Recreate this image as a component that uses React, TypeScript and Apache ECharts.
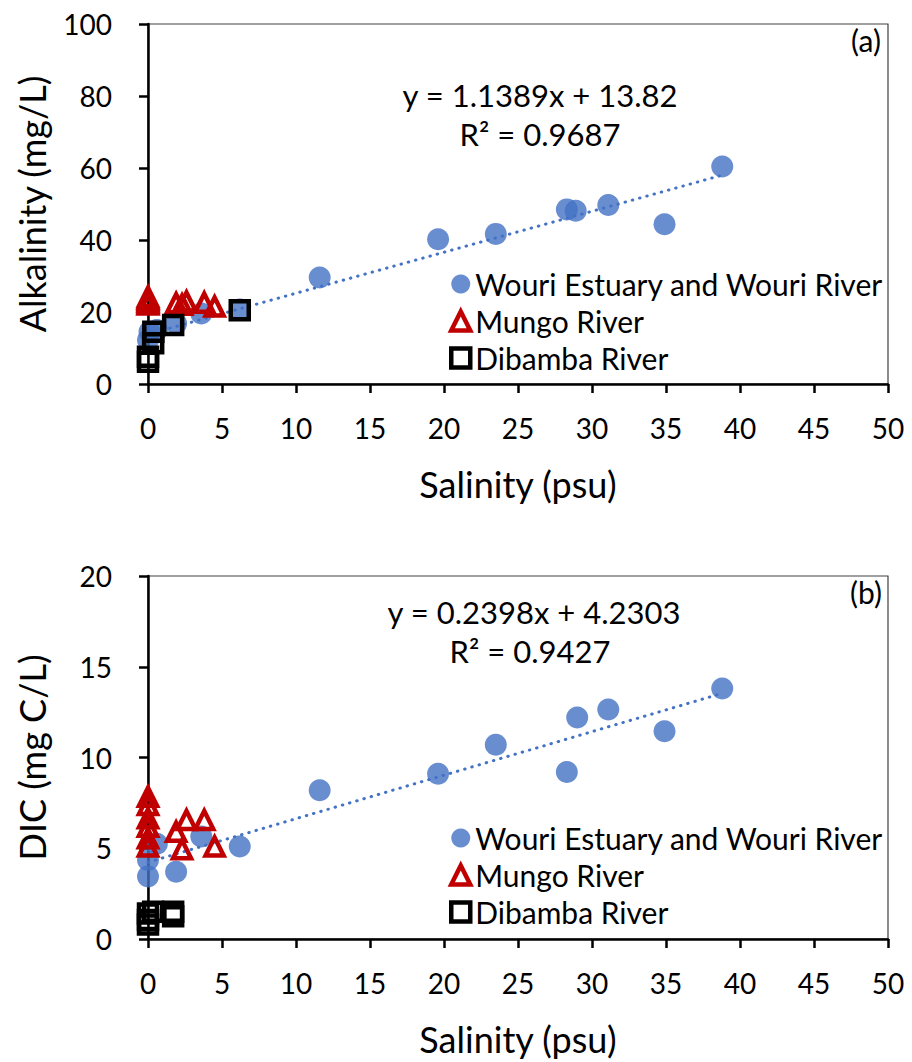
import React, { useEffect, useRef } from "react";
import * as echarts from "echarts";

// Panel (a): Alkalinity vs salinity
const wouriSalA = [0, 0.1, 0.6, 1.9, 3.6, 6.2, 11.6, 19.6, 23.5, 28.3, 28.9, 31.1, 34.9, 38.8];
const wouriAlk = [12.2, 14.5, 15.0, 16.8, 19.6, 20.7, 29.6, 40.2, 41.7, 48.5, 48.1, 49.7, 44.4, 60.4];
const mungoSalA = [0, 0, 0, 0, 0, 0, 1.9, 2.3, 2.6, 3.8, 4.5];
const mungoAlk = [24.2, 23.7, 23.3, 22.9, 22.5, 22.1, 22.4, 22.0, 22.9, 22.6, 21.5];
const dibambaSalA = [0, 0, 0.35, 0.36, 1.7, 6.2];
const dibambaAlk = [6.2, 7.6, 11.3, 14.5, 16.4, 20.5];

// Panel (b): DIC vs salinity
const wouriSalB = [0, 0, 0.6, 1.9, 3.6, 6.2, 11.6, 19.6, 23.5, 28.3, 29.0, 31.1, 34.9, 38.8];
const wouriDic = [3.45, 4.35, 5.25, 3.7, 5.65, 5.1, 8.2, 9.1, 10.7, 9.2, 12.2, 12.65, 11.45, 13.8];
const mungoSalB = [0, 0, 0, 0, 0, 0, 1.9, 2.6, 3.8, 2.3, 4.5];
const mungoDic = [7.84, 7.38, 6.65, 6.19, 5.55, 5.09, 5.91, 6.56, 6.56, 4.94, 5.09];
const dibambaSalB = [0, 0, 0, 0.35, 1.7, 1.7];
const dibambaDic = [0.8, 1.05, 1.4, 1.5, 1.5, 1.25];

// Trendline coefficients (from the chart's equations)
const trendA = { slope: 1.1389, intercept: 13.82, r2: "0.9687" };
const trendB = { slope: 0.2398, intercept: 4.2303, r2: "0.9427" };

const seriesNames = ["Wouri Estuary and Wouri River", "Mungo River", "Dibamba River"];
const xTicks = { min: 0, max: 50, interval: 5 };
const yTicksA = { min: 0, max: 100, interval: 20 };
const yTicksB = { min: 0, max: 20, interval: 5 };

const FONT = "Lato, 'Liberation Sans', sans-serif";
const BLUE = "#4472C4";
const RED = "#C00000";
const CLEAR = "rgba(255,255,255,0)";

function pairs(xs: number[], ys: number[]) {
  return xs.map((x, i) => [x, ys[i]]);
}

function trendLine(xs: number[], t: { slope: number; intercept: number }) {
  const lo = Math.min(...xs);
  const hi = Math.max(...xs);
  return [
    [lo, t.slope * lo + t.intercept],
    [hi, t.slope * hi + t.intercept],
  ];
}

export default function App() {
  const ref = useRef<HTMLDivElement>(null);

  useEffect(() => {
    if (!ref.current) return;
    const chart = echarts.init(ref.current, undefined, { renderer: "svg" });

    const axisCommon = {
      axisLine: { show: true, lineStyle: { color: "#000", width: 2.5 } },
      axisTick: { show: true, inside: false, length: 9, lineStyle: { color: "#000", width: 2.5 } },
      splitLine: { show: false },
      nameTextStyle: { fontFamily: FONT, fontSize: 36, color: "#000" },
    };

    const xAxis = (gridIndex: number) => ({
      type: "value",
      gridIndex,
      ...xTicks,
      name: "Salinity (psu)",
      nameLocation: "middle",
      nameGap: 82,
      axisLabel: { fontFamily: FONT, fontSize: 28, color: "#000", margin: 30 },
      ...axisCommon,
    });

    const yAxis = (gridIndex: number, ticks: any, name: string) => ({
      type: "value",
      gridIndex,
      ...ticks,
      name,
      nameLocation: "middle",
      nameGap: 98,
      axisLabel: { fontFamily: FONT, fontSize: 28, color: "#000", margin: 36 },
      ...axisCommon,
    });

    const scatterSet = (idx: number, w: number[][], m: number[][], d: number[][]) => [
      {
        name: seriesNames[0],
        type: "scatter",
        xAxisIndex: idx,
        yAxisIndex: idx,
        symbol: "circle",
        symbolSize: 22,
        itemStyle: { color: BLUE },
        data: w,
        z: 3,
      },
      {
        name: seriesNames[1],
        type: "scatter",
        xAxisIndex: idx,
        yAxisIndex: idx,
        symbol: "triangle",
        symbolSize: 18,
        itemStyle: { color: CLEAR, borderColor: RED, borderWidth: 4.5, opacity: 1 },
        data: m,
        z: 4,
      },
      {
        name: seriesNames[2],
        type: "scatter",
        xAxisIndex: idx,
        yAxisIndex: idx,
        symbol: "rect",
        symbolSize: 18,
        itemStyle: { color: CLEAR, borderColor: "#000", borderWidth: 4.5, opacity: 1 },
        data: d,
        z: 5,
      },
    ];

    const trend = (idx: number, data: number[][]) => ({
      name: "trend" + idx,
      type: "line",
      xAxisIndex: idx,
      yAxisIndex: idx,
      data,
      symbol: "none",
      lineStyle: { color: BLUE, width: 3, type: [0.5, 7], cap: "round" },
      z: 2,
      silent: true,
    });

    const legend = (top: number) => ({
      orient: "vertical",
      left: 449,
      top,
      padding: 0,
      itemGap: 7,
      itemWidth: 19,
      itemHeight: 19,
      textStyle: { fontFamily: FONT, fontSize: 30, color: "#000" },
      data: [
        { name: seriesNames[0], icon: "circle", itemStyle: { color: BLUE, borderWidth: 0 } },
        { name: seriesNames[1], icon: "triangle", itemStyle: { color: CLEAR, borderColor: RED, borderWidth: 4.5 } },
        { name: seriesNames[2], icon: "rect", itemStyle: { color: CLEAR, borderColor: "#000", borderWidth: 4.5 } },
      ],
    });

    const txt = (x: number, y: number, text: string, size = 31) => ({
      type: "text",
      x,
      y,
      style: {
        text,
        fontFamily: FONT,
        fontSize: size,
        fill: "#000",
        textAlign: "center",
        textVerticalAlign: "middle",
      },
      z: 10,
    });

    const fmt = (n: number) => String(n);

    chart.setOption({
      animation: false,
      backgroundColor: "#fff",
      grid: [
        { left: 148, top: 24, width: 740, height: 360, show: true, borderColor: "#404040", borderWidth: 1.2, backgroundColor: "transparent" },
        { left: 148, top: 576, width: 740, height: 363, show: true, borderColor: "#404040", borderWidth: 1.2, backgroundColor: "transparent" },
      ],
      xAxis: [xAxis(0), xAxis(1)],
      yAxis: [yAxis(0, yTicksA, "Alkalinity (mg/L)"), yAxis(1, yTicksB, "DIC (mg C/L)")],
      legend: [legend(269), legend(823)],
      series: [
        trend(0, trendLine(wouriSalA, trendA)),
        ...scatterSet(0, pairs(wouriSalA, wouriAlk), pairs(mungoSalA, mungoAlk), pairs(dibambaSalA, dibambaAlk)),
        trend(1, trendLine(wouriSalB, trendB)),
        ...scatterSet(1, pairs(wouriSalB, wouriDic), pairs(mungoSalB, mungoDic), pairs(dibambaSalB, dibambaDic)),
      ],
      graphic: [
        txt(540, 95, `y = ${fmt(trendA.slope)}x + ${fmt(trendA.intercept)}`),
        txt(540, 134, `R² = ${trendA.r2}`),
        txt(534, 612, `y = ${fmt(trendB.slope)}x + ${fmt(trendB.intercept)}`),
        txt(530, 651, `R² = ${trendB.r2}`),
        txt(866, 40, "(a)", 30),
        txt(866, 592, "(b)", 30),
      ],
    });

    return () => chart.dispose();
  }, []);

  return (
    <div
      ref={ref}
      style={{ position: "fixed", left: 0, top: 0, width: 912, height: 1062, background: "#fff" }}
    />
  );
}
